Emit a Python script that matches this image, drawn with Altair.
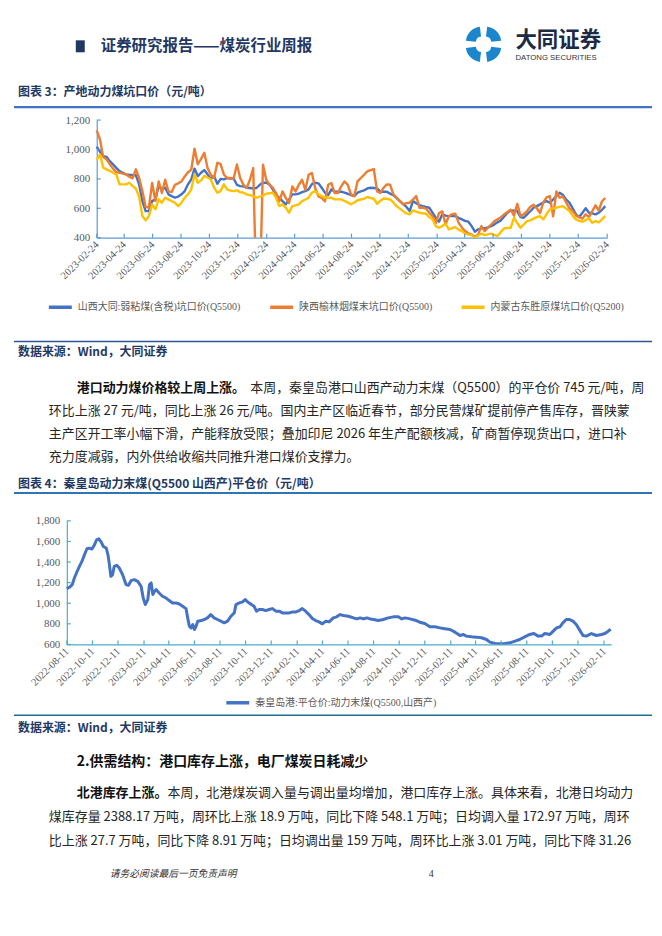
import math
import altair as alt
import pandas as pd

# ---------------- 图表3: 产地动力煤坑口价 (weekly from 2023-02-24) ----------------
C1_START = "2023-02-24"
C1_END = "2026-02-24"
C1_SERIES = ["山西大同:弱粘煤(含税)坑口价(Q5500)", "陕西榆林烟煤末坑口价(Q5500)", "内蒙古东胜原煤坑口价(Q5200)"]
C1_COLORS = ["#4472C4", "#ED7D31", "#FFC000"]
DATONG = [1020, 985, 955, 950, 921, 899, 875, 853, 842, 831,
          828, 826, 825, 763, 649, 581, 581, 649, 661, 751,
          729, 740, 695, 683, 672, 680, 695, 717, 763, 797,
          870, 819, 842, 860, 831, 800, 819, 767, 800, 797,
          806, 803, 803, 760, 751, 749, 740, 738, 735, 738,
          760, 774, 774, 763, 729, 690, 672, 649, 627, 661,
          695, 695, 700, 710, 717, 729, 765, 774, 770, 740,
          706, 690, 729, 713, 713, 713, 706, 699, 690, 683,
          706, 715, 722, 735, 740, 738, 735, 713, 713, 713,
          700, 690, 670, 649, 630, 609, 581, 649, 635, 622,
          615, 609, 604, 570, 536, 509, 559, 550, 547, 547,
          547, 535, 525, 515, 509, 479, 441, 457, 464, 464,
          470, 479, 491, 505, 518, 545, 570, 586, 584, 581,
          540, 536, 559, 580, 604, 615, 627, 640, 649, 638,
          660, 683, 706, 690, 660, 638, 600, 559, 541, 570,
          600, 570, 565, 559, 570, 590, 615]
YULIN = [1130, 1068, 948, 933, 900, 870, 846, 842, 836, 831,
         815, 804, 865, 808, 717, 610, 604, 772, 650, 783,
         704, 794, 715, 710, 760, 770, 783, 817, 845, 862,
         1005, 900, 935, 978, 874, 828, 806, 910, 900, 830,
         806, 806, 803, 898, 806, 760, 738, 794, 874, 0,
         0, 896, 794, 760, 740, 704, 647, 715, 670, 636,
         749, 715, 760, 794, 726, 828, 840, 738, 681, 670,
         647, 760, 772, 704, 704, 749, 783, 760, 695, 683,
         783, 806, 828, 851, 860, 867, 715, 704, 740, 763,
         760, 695, 672, 649, 627, 635, 638, 660, 683, 604,
         604, 598, 570, 547, 500, 568, 579, 490, 547, 560,
         563, 502, 470, 445, 430, 423, 405, 423, 479, 445,
         468, 490, 513, 525, 540, 559, 575, 590, 550, 630,
         547, 560, 581, 610, 624, 600, 568, 640, 675, 683,
         545, 715, 672, 680, 640, 600, 581, 550, 540, 530,
         559, 540, 580, 620, 585, 648, 670]
DONGSHENG = [930, 965, 876, 865, 855, 842, 831, 763, 763, 763,
             774, 751, 735, 680, 547, 518, 547, 627, 593, 661,
             638, 672, 661, 649, 638, 615, 638, 672, 695, 729,
             831, 774, 790, 820, 810, 797, 740, 706, 717, 763,
             729, 720, 717, 722, 710, 706, 695, 690, 683, 672,
             680, 688, 699, 702, 706, 672, 615, 627, 604, 570,
             615, 620, 627, 649, 660, 672, 706, 717, 695, 683,
             675, 672, 672, 661, 661, 661, 650, 640, 627, 640,
             654, 660, 665, 677, 670, 665, 631, 650, 667, 665,
             660, 640, 615, 598, 581, 565, 559, 586, 578, 570,
             566, 563, 540, 525, 479, 468, 480, 495, 457, 465,
             472, 455, 445, 428, 422, 418, 400, 415, 428, 418,
             423, 428, 420, 411, 440, 464, 466, 468, 536, 500,
             468, 490, 513, 518, 530, 540, 547, 525, 560, 593,
             600, 604, 610, 615, 598, 581, 550, 525, 515, 509,
             520, 532, 502, 513, 505, 525, 547]
C1_TICKS = ["2023-02-24", "2023-04-24", "2023-06-24", "2023-08-24", "2023-10-24",
            "2023-12-24", "2024-02-24", "2024-04-24", "2024-06-24", "2024-08-24",
            "2024-10-24", "2024-12-24", "2025-02-24", "2025-04-24", "2025-06-24",
            "2025-08-24", "2025-10-24", "2025-12-24", "2026-02-24"]
C1_Y_TICKS = [400, 600, 800, 1000, 1200]

# ---------------- 图表4: 秦皇岛动力末煤平仓价 (days from 2022-08-11) ----------------
C2_START = "2022-08-11"
C2_END = "2026-02-28"
C2_SERIES = ["秦皇岛港:平仓价:动力末煤(Q5500,山西产)"]
C2_COLORS = ["#4472C4"]
C2_DAYS = [0, 6, 13, 18, 24, 30, 36, 42, 48, 54,
           60, 66, 71, 76, 82, 87, 94, 98, 101, 105,
           109, 113, 119, 125, 133, 141, 147, 153, 161, 169,
           177, 182, 187, 193, 197, 201, 205, 209, 213, 220,
           228, 236, 244, 252, 260, 268, 276, 284, 288, 292,
           296, 300, 304, 308, 312, 320, 328, 335, 343, 351,
           359, 367, 375, 383, 391, 399, 403, 411, 419, 425,
           431, 438, 446, 452, 458, 466, 474, 482, 490, 498,
           506, 514, 522, 530, 538, 546, 554, 561, 569, 577,
           585, 593, 601, 609, 617, 625, 635, 643, 651, 659,
           671, 683, 691, 699, 707, 715, 723, 731, 742, 754,
           766, 778, 790, 798, 806, 818, 830, 841, 853, 865,
           877, 889, 901, 913, 925, 937, 945, 952, 964, 976,
           988, 1000, 1008, 1020, 1032, 1044, 1056, 1068, 1079, 1091,
           1103, 1113, 1123, 1131, 1139, 1151, 1159, 1167, 1175, 1182,
           1190, 1198, 1206, 1214, 1222, 1230, 1238, 1250, 1262, 1274,
           1282, 1290, 1296]
C2_VALUES = [1142, 1155, 1181, 1245, 1303, 1358, 1406, 1471, 1529, 1535,
             1526, 1568, 1616, 1626, 1593, 1551, 1535, 1471, 1390, 1261,
             1277, 1358, 1368, 1342, 1277, 1181, 1174, 1219, 1229, 1213,
             1164, 1052, 987, 1035, 1181, 1197, 1084, 1116, 1132, 1100,
             1068, 1052, 1026, 1003, 1003, 993, 971, 948, 858, 777,
             761, 793, 745, 777, 826, 832, 842, 858, 890, 858,
             842, 826, 810, 826, 874, 906, 987, 1003, 1013, 1035,
             1013, 993, 971, 923, 939, 939, 929, 939, 948, 923,
             923, 906, 906, 906, 916, 916, 929, 948, 923, 890,
             852, 832, 819, 800, 826, 819, 858, 868, 890, 881,
             874, 858, 848, 858, 848, 858, 848, 842, 832, 842,
             858, 868, 868, 848, 858, 848, 835, 816, 803, 771,
             771, 761, 752, 745, 719, 687, 697, 681, 674, 671,
             665, 648, 623, 610, 606, 610, 616, 632, 648, 674,
             697, 706, 681, 681, 706, 697, 729, 761, 771, 810,
             842, 842, 826, 793, 739, 687, 681, 706, 687, 697,
             706, 729, 748]
C2_TICKS = ["2022-08-11", "2022-10-11", "2022-12-11", "2023-02-11", "2023-04-11",
            "2023-06-11", "2023-08-11", "2023-10-11", "2023-12-11", "2024-02-11",
            "2024-04-11", "2024-06-11", "2024-08-11", "2024-10-11", "2024-12-11",
            "2025-02-11", "2025-04-11", "2025-06-11", "2025-08-11", "2025-10-11",
            "2025-12-11", "2026-02-11"]
C2_Y_TICKS = [600, 800, 1000, 1200, 1400, 1600, 1800]

# ---------------- page texts ----------------
HEADER_TITLE = ["证券研究报告——煤炭行业周报"]
BRAND = ["大同证券", "DATONG SECURITIES"]
FIG_TITLES = ["图表 3：产地动力煤坑口价（元/吨）", "图表 4：秦皇岛动力末煤(Q5500 山西产)平仓价（元/吨）"]
SOURCE = ["数据来源：Wind，大同证券"]
PARA1_LEAD = ["港口动力煤价格较上周上涨。"]
PARA1_LINES = ["本周，秦皇岛港口山西产动力末煤（Q5500）的平仓价 745 元/吨，周",
               "环比上涨 27 元/吨，同比上涨 26 元/吨。国内主产区临近春节，部分民营煤矿提前停产售库存，晋陕蒙",
               "主产区开工率小幅下滑，产能释放受限；叠加印尼 2026 年生产配额核减，矿商暂停现货出口，进口补",
               "充力度减弱，内外供给收缩共同推升港口煤价支撑力。"]
SECTION2 = ["2.供需结构：港口库存上涨，电厂煤炭日耗减少"]
PARA2_LEAD = ["北港库存上涨。"]
PARA2_LINES = ["本周，北港煤炭调入量与调出量均增加，港口库存上涨。具体来看，北港日均动力",
               "煤库存量 2388.17 万吨，周环比上涨 18.9 万吨，同比下降 548.1 万吨；日均调入量 172.97 万吨，周环",
               "比上涨 27.7 万吨，同比下降 8.91 万吨；日均调出量 159 万吨，周环比上涨 3.01 万吨，同比下降 31.26"]
FOOTER = ["请务必阅读最后一页免责声明", "4"]

CJK = "Noto Sans CJK SC"
LBL = "Liberation Serif, Noto Sans CJK SC"
NAVY = "#1F3864"
W = 646


def dt(s):
    y, m, d = (int(p) for p in s.split("-"))
    return alt.DateTime(year=y, month=m, date=d)


def iso(ts):
    return ts.strftime("%Y-%m-%dT00:00:00")


def one():
    return alt.Data(values=[{"k": 0}])


def txt(s, x, y, size, color="#262626", weight="normal", font=CJK, style="normal", align="left"):
    return alt.Chart(alt.Data(values=[{"t": s}])).mark_text(
        align=align, baseline="middle", fontSize=size, fontWeight=weight,
        font=font, fontStyle=style, color=color
    ).encode(x=alt.value(x), y=alt.value(y), text="t:N")


def hline(y, color, width, x1=6, x2=W):
    return alt.Chart(one()).mark_rule(color=color, strokeWidth=width).encode(
        x=alt.value(x1), x2=alt.value(x2), y=alt.value(y))


def line_panel(df, ticks, yticks, start, end, xr, height, ydom, names, colors, axc, lx, ly, sw):
    xenc = alt.X("date:T", title=None,
                 scale=alt.Scale(domain=[dt(start), dt(end)], range=xr),
                 axis=alt.Axis(values=[dt(s) for s in ticks], format="%Y-%m-%d",
                               labelAngle=315, labelAlign="right", labelBaseline="middle",
                               labelPadding=5, ticks=False, grid=False, domainColor=axc,
                               domainWidth=1.2, labelColor="#595959", labelFont=LBL,
                               labelFontSize=10.5, labelFlush=False, labelOverlap=False))
    yenc = alt.Y("value:Q", title=None,
                 scale=alt.Scale(domain=ydom, nice=False, zero=False),
                 axis=alt.Axis(values=yticks, format=",.0f", offset=-xr[0], ticks=False,
                               grid=False, domainColor=axc, domainWidth=1.2,
                               labelColor="#595959", labelFont=LBL, labelFontSize=11,
                               labelPadding=7))
    lines = alt.Chart(df).mark_line(strokeWidth=sw, clip=True, strokeJoin="round").encode(
        x=xenc, y=yenc,
        color=alt.Color("series:N", scale=alt.Scale(domain=names, range=colors),
                        legend=alt.Legend(orient="none", legendX=lx, legendY=ly,
                                          direction="horizontal", columns=len(names),
                                          title=None, symbolType="stroke",
                                          symbolStrokeWidth=3.5, symbolSize=529,
                                          labelFontSize=10, labelColor="#595959",
                                          labelFont=LBL, columnPadding=22,
                                          labelOffset=4, labelLimit=400)))
    xt = alt.Chart(pd.DataFrame({"date": [iso(pd.Timestamp(s)) for s in ticks]})).mark_rule(
        color=axc, strokeWidth=1.2).encode(x=xenc, y=alt.value(height), y2=alt.value(height - 4))
    yt = alt.Chart(pd.DataFrame({"value": yticks})).mark_rule(
        color=axc, strokeWidth=1.2).encode(y=yenc, x=alt.value(xr[0]), x2=alt.value(xr[0] + 4))
    return alt.layer(lines, xt, yt).properties(width=W, height=height)


# ---------------- build data frames ----------------
n1 = len(DATONG)
c1_dates = [iso(pd.Timestamp(C1_START) + pd.Timedelta(days=7 * i)) for i in range(n1)]
c1_df = pd.DataFrame({
    "date": c1_dates * 3,
    "value": DATONG + YULIN + DONGSHENG,
    "series": [C1_SERIES[0]] * n1 + [C1_SERIES[1]] * n1 + [C1_SERIES[2]] * n1,
})
c2_df = pd.DataFrame({
    "date": [iso(pd.Timestamp(C2_START) + pd.Timedelta(days=d)) for d in C2_DAYS],
    "value": C2_VALUES,
    "series": C2_SERIES * len(C2_DAYS),
})

# ---------------- row 0: header (page y 8..119) ----------------
logo = []
for k in range(4):
    a0 = k * 1.5708 + 0.12
    a1 = k * 1.5708 + 1.45
    mid = (a0 + a1) / 2
    cx = 477 + 2.5 * math.sin(mid)
    cy = 35 - 2.5 * math.cos(mid)
    logo.append(alt.Chart(one()).mark_arc(innerRadius=6, outerRadius=16, color="#1B86CC").encode(
        x=alt.value(cx), y=alt.value(cy), theta=alt.value(a0), theta2=alt.value(a1)))

row0 = alt.layer(
    alt.Chart(one()).mark_rect(color=NAVY).encode(
        x=alt.value(68), x2=alt.value(77), y=alt.value(31), y2=alt.value(43)),
    txt(HEADER_TITLE[0], 93, 37, 15.5, color=NAVY, weight="bold"),
    *logo,
    txt(BRAND[0], 509, 32, 21.5, color="#1d2a44", weight="bold"),
    txt(BRAND[1], 509, 49, 7.8, color="#333333", font="Liberation Sans"),
    txt(FIG_TITLES[0], 10, 83, 12, color=NAVY, weight="bold"),
    hline(98, "#4472C4", 2.2),
).properties(width=W, height=111)

# ---------------- row 1: chart 3 (page y 119..237) ----------------
row1 = line_panel(c1_df, C1_TICKS, C1_Y_TICKS, C1_START, C1_END, [89, 601], 118,
                  [400, 1200], C1_SERIES, C1_COLORS, "#5B9BD5", 39, 174, 2.4)

# ---------------- row 2: middle text (page y 237..521) ----------------
row2 = alt.layer(
    hline(104, "#2F5597", 1.5),
    txt(SOURCE[0], 10, 115, 12, color=NAVY, weight="bold"),
    txt(PARA1_LEAD[0], 69, 151, 13, color="#111111", weight="bold"),
    txt(PARA1_LINES[0], 243, 151, 13),
    txt(PARA1_LINES[1], 41, 174, 13),
    txt(PARA1_LINES[2], 41, 197, 13),
    txt(PARA1_LINES[3], 41, 220, 13),
    txt(FIG_TITLES[1], 10, 247, 12, color=NAVY, weight="bold"),
    hline(256, "#2E75B6", 2),
).properties(width=W, height=284)

# ---------------- row 3: chart 4 (page y 521..645) ----------------
row3 = line_panel(c2_df, C2_TICKS, C2_Y_TICKS, C2_START, C2_END, [59, 605], 124,
                  [600, 1800], C2_SERIES, C2_COLORS, "#4BACC6", 217, 169, 3)

# ---------------- row 4: bottom text (page y 645..928) ----------------
row4 = alt.layer(
    hline(71, "#1F6E8C", 1.5),
    txt(SOURCE[0], 10, 84, 12, color=NAVY, weight="bold"),
    txt(SECTION2[0], 69, 118, 14, color="#111111", weight="bold"),
    txt(PARA2_LEAD[0], 69, 149, 13, color="#111111", weight="bold"),
    txt(PARA2_LINES[0], 160, 149, 13),
    txt(PARA2_LINES[1], 41, 173, 13),
    txt(PARA2_LINES[2], 41, 197, 13),
    txt(FOOTER[0], 102, 230, 9.8, color="#333333", style="italic"),
    txt(FOOTER[1], 422, 230, 10, color="#333333", font="Liberation Serif"),
).properties(width=W, height=283)

chart = alt.vconcat(row0, row1, row2, row3, row4, spacing=0, bounds="flush").resolve_scale(
    x="independent", y="independent", color="independent"
).properties(padding=0, background="white").configure_view(stroke="transparent", strokeWidth=0)

chart.save("out.html", embed_options={"renderer": "svg", "actions": False})
